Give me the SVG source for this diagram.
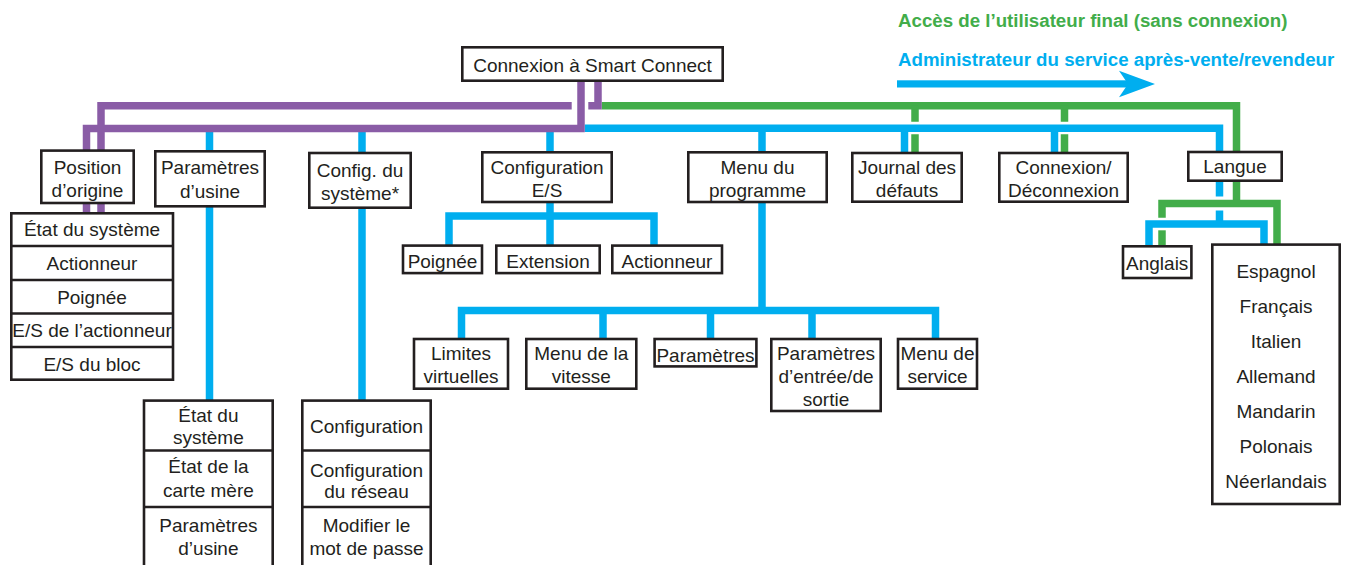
<svg xmlns="http://www.w3.org/2000/svg" width="1348" height="565" viewBox="0 0 1348 565">
  <style>
    .box { fill: #ffffff; stroke: #231f20; stroke-width: 2.6; }
    .div { stroke: #231f20; stroke-width: 2.6; }
    .t { font-family: "Liberation Sans", Arial, sans-serif; font-size: 19px; fill: #231f20; text-anchor: middle; }
    .leg { font-family: "Liberation Sans", Arial, sans-serif; font-weight: bold; font-size: 18.7px; }
    .purple { fill: none; stroke: #8a5ca6; stroke-width: 7.5; stroke-linejoin: miter; stroke-linecap: butt; }
    .green { fill: none; stroke: #42ad4a; stroke-width: 7.5; stroke-linejoin: miter; stroke-linecap: butt; }
    .blue { fill: none; stroke: #00aeef; stroke-width: 7.5; stroke-linejoin: miter; stroke-linecap: butt; }
  </style>

  <!-- legend -->
  <g id="legend">
    <text class="leg" x="898" y="27" fill="#42ad4a">Accès de l’utilisateur final (sans connexion)</text>
    <text class="leg" x="898" y="66" fill="#00aeef">Administrateur du service après-vente/revendeur</text>
    <rect x="897" y="80.3" width="231" height="7.2" fill="#00aeef"/>
    <polygon points="1119,70.7 1155,84 1119,97.3 1128,84" fill="#00aeef"/>
  </g>

  <!-- connectors -->
  <g id="connectors">
    <!-- blue: service / dealer administrator -->
    <path class="blue" d="M584.7,128.3 H1219.5 V152"/>
    <path class="blue" d="M209.5,128.3 V400"/>
    <path class="blue" d="M362,128.3 V400"/>
    <path class="blue" d="M550,128.3 V245"/>
    <path class="blue" d="M762,128.3 V311"/>
    <path class="blue" d="M904.5,128.3 V152"/>
    <path class="blue" d="M1054.5,128.3 V152"/>
    <path class="blue" d="M449,245 V216 H654 V245"/>
    <path class="blue" d="M461.5,339 V310.5 H935.5 V339"/>
    <path class="blue" d="M603,310.5 V339"/>
    <path class="blue" d="M710.5,310.5 V339"/>
    <path class="blue" d="M812,310.5 V339"/>
    <path class="blue" d="M1219.5,181 V196.5"/>
    <path class="blue" d="M1219.5,210.5 V224"/>
    <path class="blue" d="M1149,246 V224 H1264 V244"/>

    <!-- green: end user access -->
    <path class="green" d="M601.7,105.8 H1236.5 V152"/>
    <path class="green" d="M915,105.8 V121.7 M915,134.3 V152"/>
    <path class="green" d="M1064.5,105.8 V121.7 M1064.5,134.3 V152"/>
    <path class="green" d="M1236.5,181 V203.5"/>
    <path class="green" d="M1162,217.8 V203.5 H1277 V244"/>
    <path class="green" d="M1162,230.3 V246"/>

    <!-- purple: login -->
    <path class="purple" d="M581,80 V128.4 H86.5 V213"/>
    <path class="purple" d="M598,80 V105.8 H588.3"/>
    <path class="purple" d="M571.7,105.8 H101 V213"/>
  </g>

  <!-- top row -->
  <g id="root">
    <rect class="box" x="462.3" y="47.3" width="260.4" height="33.4"/>
    <text class="t" x="592.5" y="71.5">Connexion à Smart Connect</text>
  </g>
  <g id="position-origine">
    <rect class="box" x="41.3" y="150.6" width="92.4" height="52.4"/>
    <text class="t" x="87.5" y="173.5">Position</text>
    <text class="t" x="87.5" y="196.7">d’origine</text>
  </g>
  <g id="parametres-usine">
    <rect class="box" x="155.3" y="151.3" width="109.4" height="55"/>
    <text class="t" x="210" y="174">Paramètres</text>
    <text class="t" x="210" y="198.3">d’usine</text>
  </g>
  <g id="config-systeme">
    <rect class="box" x="309.3" y="153" width="101.4" height="54.7"/>
    <text class="t" x="360" y="176.7">Config. du</text>
    <text class="t" x="360" y="200">système*</text>
  </g>
  <g id="config-es">
    <rect class="box" x="482.3" y="152.3" width="129.4" height="49.7"/>
    <text class="t" x="547" y="173.5">Configuration</text>
    <text class="t" x="547" y="196.7">E/S</text>
  </g>
  <g id="menu-programme">
    <rect class="box" x="688.3" y="152.3" width="138.4" height="49.7"/>
    <text class="t" x="757.5" y="173.5">Menu du</text>
    <text class="t" x="757.5" y="196.7">programme</text>
  </g>
  <g id="journal-defauts">
    <rect class="box" x="852.3" y="153" width="109.4" height="48.7"/>
    <text class="t" x="907" y="173.5">Journal des</text>
    <text class="t" x="907" y="196.7">défauts</text>
  </g>
  <g id="connexion-deconnexion">
    <rect class="box" x="999.3" y="153" width="128.4" height="48.7"/>
    <text class="t" x="1063.5" y="173.5">Connexion/</text>
    <text class="t" x="1063.5" y="196.7">Déconnexion</text>
  </g>
  <g id="langue">
    <rect class="box" x="1188.3" y="152" width="93.4" height="28.7"/>
    <text class="t" x="1235" y="173.3">Langue</text>
  </g>

  <!-- home position menu -->
  <g id="position-items">
    <rect class="box" x="11.3" y="213.3" width="161.7" height="166.4"/>
    <line class="div" x1="11.3" y1="246" x2="173" y2="246"/>
    <line class="div" x1="11.3" y1="280" x2="173" y2="280"/>
    <line class="div" x1="11.3" y1="313.5" x2="173" y2="313.5"/>
    <line class="div" x1="11.3" y1="347" x2="173" y2="347"/>
    <text class="t" x="92" y="236">État du système</text>
    <text class="t" x="92" y="270">Actionneur</text>
    <text class="t" x="92" y="303.5">Poignée</text>
    <text class="t" x="92" y="337">E/S de l’actionneur</text>
    <text class="t" x="92" y="370.5">E/S du bloc</text>
  </g>

  <!-- I/O configuration items -->
  <g id="es-poignee">
    <rect class="box" x="403" y="245.6" width="79" height="27.5"/>
    <text class="t" x="442.5" y="268.3">Poignée</text>
  </g>
  <g id="es-extension">
    <rect class="box" x="496.3" y="245.6" width="103.4" height="27.5"/>
    <text class="t" x="548" y="268.3">Extension</text>
  </g>
  <g id="es-actionneur">
    <rect class="box" x="612.3" y="245.6" width="109.7" height="27.5"/>
    <text class="t" x="667" y="268.3">Actionneur</text>
  </g>

  <!-- program menu items -->
  <g id="limites-virtuelles">
    <rect class="box" x="414" y="339" width="94" height="49.7"/>
    <text class="t" x="461" y="360.3">Limites</text>
    <text class="t" x="461" y="383.3">virtuelles</text>
  </g>
  <g id="menu-vitesse">
    <rect class="box" x="526.3" y="339" width="110" height="49.7"/>
    <text class="t" x="581.3" y="360.3">Menu de la</text>
    <text class="t" x="581.3" y="383.3">vitesse</text>
  </g>
  <g id="parametres">
    <rect class="box" x="654.6" y="339" width="101.8" height="27.4"/>
    <text class="t" x="705.5" y="361.5">Paramètres</text>
  </g>
  <g id="parametres-es">
    <rect class="box" x="771.3" y="339" width="109.4" height="72"/>
    <text class="t" x="826" y="360.3">Paramètres</text>
    <text class="t" x="826" y="383.3">d’entrée/de</text>
    <text class="t" x="826" y="405.5">sortie</text>
  </g>
  <g id="menu-service">
    <rect class="box" x="898" y="339" width="79" height="49.7"/>
    <text class="t" x="937.5" y="360.3">Menu de</text>
    <text class="t" x="937.5" y="383.3">service</text>
  </g>

  <!-- language items -->
  <g id="anglais">
    <rect class="box" x="1123" y="246.3" width="68.4" height="31.7"/>
    <text class="t" x="1157.2" y="270">Anglais</text>
  </g>
  <g id="autres-langues">
    <rect class="box" x="1212.3" y="244.6" width="127.4" height="259.4"/>
    <text class="t" x="1276" y="277.5">Espagnol</text>
    <text class="t" x="1276" y="312.5">Français</text>
    <text class="t" x="1276" y="347.5">Italien</text>
    <text class="t" x="1276" y="382.5">Allemand</text>
    <text class="t" x="1276" y="417.5">Mandarin</text>
    <text class="t" x="1276" y="452.5">Polonais</text>
    <text class="t" x="1276" y="487.5">Néerlandais</text>
  </g>

  <!-- factory settings items -->
  <g id="usine-items">
    <rect class="box" x="144" y="400.6" width="128.7" height="170"/>
    <line class="div" x1="144" y1="450.5" x2="272.7" y2="450.5"/>
    <line class="div" x1="144" y1="507" x2="272.7" y2="507"/>
    <text class="t" x="208.4" y="422">État du</text>
    <text class="t" x="208.4" y="443.5">système</text>
    <text class="t" x="208.4" y="473">État de la</text>
    <text class="t" x="208.4" y="496.7">carte mère</text>
    <text class="t" x="208.4" y="531.7">Paramètres</text>
    <text class="t" x="208.4" y="555">d’usine</text>
  </g>

  <!-- system configuration items -->
  <g id="systeme-items">
    <rect class="box" x="302.3" y="400.6" width="128.4" height="170"/>
    <line class="div" x1="302.3" y1="450.5" x2="430.7" y2="450.5"/>
    <line class="div" x1="302.3" y1="507" x2="430.7" y2="507"/>
    <text class="t" x="366.5" y="433.3">Configuration</text>
    <text class="t" x="366.5" y="476.7">Configuration</text>
    <text class="t" x="366.5" y="498.3">du réseau</text>
    <text class="t" x="366.5" y="531.7">Modifier le</text>
    <text class="t" x="366.5" y="555">mot de passe</text>
  </g>
</svg>
